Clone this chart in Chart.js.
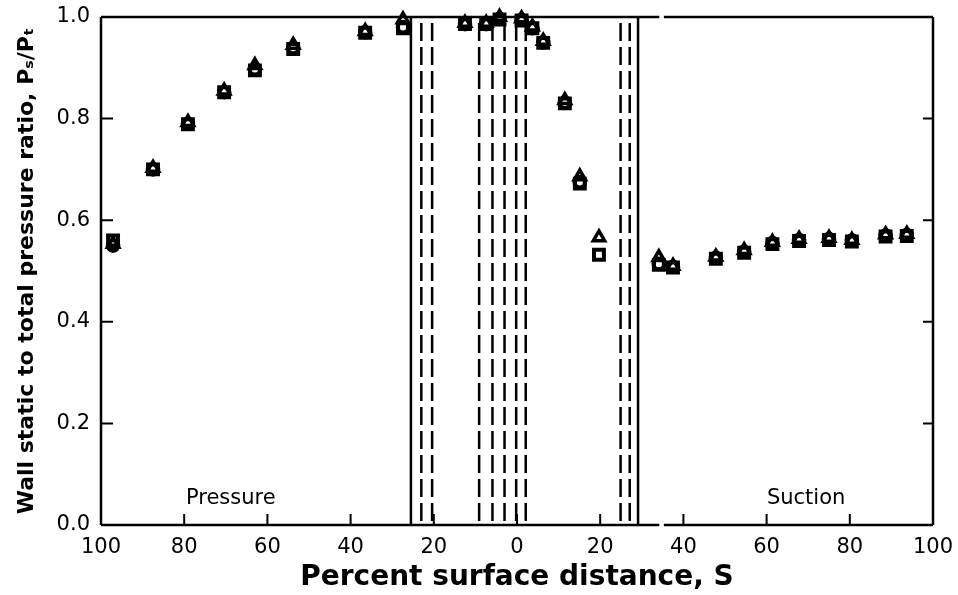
<!DOCTYPE html>
<html>
<head>
<meta charset="utf-8">
<script src="https://cdn.jsdelivr.net/npm/chart.js@4"></script>
<style>
  html, body { margin: 0; padding: 0; background: #fff; }
  #wrap { width: 958px; height: 595px; }
</style>
</head>
<body>
<div id="wrap"><canvas id="chart"></canvas></div>
<script>
// surface distance, negative = pressure side, positive = suction side
const distance = [-97.1, -87.5, -79.1, -70.4, -63.0, -53.8, -36.5, -27.4, -12.5, -7.4, -4.2, 1.1, 3.7, 6.3,
  11.5, 15.1, 19.7, 34.1, 37.5, 47.8, 54.6, 61.4, 67.8, 75.0, 80.5, 88.6, 93.7];
const squares = [0.560, 0.700, 0.789, 0.852, 0.895, 0.937, 0.969, 0.978, 0.986, 0.986, 0.995, 0.993, 0.978, 0.949,
  0.830, 0.672, 0.532, 0.512, 0.507, 0.524, 0.536, 0.553, 0.559, 0.561, 0.558, 0.568, 0.569];
const triangles = [0.553, 0.703, 0.793, 0.855, 0.905, 0.945, 0.972, 0.995, 0.988, 0.988, 1.000, 0.997, 0.981, 0.953,
  0.836, 0.686, 0.566, 0.527, 0.510, 0.528, 0.541, 0.557, 0.563, 0.565, 0.561, 0.572, 0.573];
const circles = [0.550, 0.700, 0.790, 0.852, 0.897, 0.939, 0.970, 0.980, 0.986, 0.986, 0.996, 0.994, 0.978, 0.950,
  0.831, 0.675, null, 0.514, 0.508, 0.526, 0.538, 0.555, 0.561, 0.563, 0.560, 0.570, 0.571];

// slot / edge markers along the surface
const solidLines = [-25.5, 29.1];
const dashedLines = [-23.0, -20.4, -9.1, -5.9, -3.0, -0.2, 2.1, 24.9, 27.1];
const xTicks = [-80, -60, -40, -20, 0, 20, 40, 60, 80];
const yTicks = [0.2, 0.4, 0.6, 0.8];
const axisBreak = [34.2, 35.3];
const regionLabels = ['Pressure', 'Suction'];
const regionAt = [-68.8, 69.5];

const toPoints = vals => distance
  .map((s, i) => ({ x: s, y: vals[i] }))
  .filter(p => p.y !== null);

const marker = (vals, style, r, w) => ({
  data: toPoints(vals),
  pointStyle: style,
  pointRadius: r,
  pointBorderWidth: w,
  pointBorderColor: '#000',
  pointBackgroundColor: 'rgba(0,0,0,0)',
  showLine: false,
  clip: false,
});

// let layout.padding alone decide the plot box
const noPad = s => {
  s.paddingTop = 0; s.paddingBottom = 0; s.paddingLeft = 0; s.paddingRight = 0;
};

// frame, inward ticks, the vertical lines and region names
const paper = {
  id: 'paper',
  beforeDatasetsDraw(chart) {
    const { ctx, chartArea: a, scales: { x, y } } = chart;
    ctx.save();
    ctx.strokeStyle = '#000';
    ctx.lineWidth = 2.5;

    dashedLines.forEach(s => {
      const px = x.getPixelForValue(s);
      ctx.setLineDash([18, 6]);
      ctx.beginPath();
      ctx.moveTo(px, a.top + 6);
      ctx.lineTo(px, a.bottom);
      ctx.stroke();
    });
    ctx.setLineDash([]);
    solidLines.forEach(s => {
      const px = x.getPixelForValue(s);
      ctx.beginPath();
      ctx.moveTo(px, a.top);
      ctx.lineTo(px, a.bottom);
      ctx.stroke();
    });

    const b0 = x.getPixelForValue(axisBreak[0]);
    const b1 = x.getPixelForValue(axisBreak[1]);
    ctx.beginPath();
    ctx.moveTo(a.left, a.top); ctx.lineTo(a.left, a.bottom);
    ctx.moveTo(a.right, a.top); ctx.lineTo(a.right, a.bottom);
    [a.top, a.bottom].forEach(py => {
      ctx.moveTo(a.left, py); ctx.lineTo(b0, py);
      ctx.moveTo(b1, py); ctx.lineTo(a.right, py);
    });
    ctx.stroke();

    ctx.lineWidth = 2;
    ctx.beginPath();
    xTicks.forEach(s => {
      const px = x.getPixelForValue(s);
      ctx.moveTo(px, a.bottom); ctx.lineTo(px, a.bottom - 11);
    });
    yTicks.forEach(v => {
      const py = y.getPixelForValue(v);
      ctx.moveTo(a.left, py); ctx.lineTo(a.left + 12, py);
      ctx.moveTo(a.right, py); ctx.lineTo(a.right - 10, py);
    });
    ctx.stroke();

    ctx.fillStyle = '#000';
    ctx.font = '21px "DejaVu Sans"';
    ctx.textAlign = 'center';
    ctx.textBaseline = 'middle';
    regionLabels.forEach((t, i) => {
      ctx.fillText(t, x.getPixelForValue(regionAt[i]), y.getPixelForValue(0.053));
    });
    ctx.restore();
  },
};

new Chart(document.getElementById('chart'), {
  type: 'scatter',
  data: {
    datasets: [
      marker(squares, 'rect', 7, 4),
      marker(triangles, 'triangle', 6.5, 3.5),
      marker(circles, 'circle', 5.3, 4),
    ],
  },
  options: {
    responsive: true,
    maintainAspectRatio: false,
    animation: false,
    layout: { padding: { top: 17, right: 25, left: 0, bottom: 0 } },
    plugins: { legend: { display: false }, tooltip: { enabled: false } },
    scales: {
      x: {
        type: 'linear',
        min: -100,
        max: 100,
        afterFit: s => { s.height = 70; noPad(s); },
        grid: { display: false, drawTicks: false },
        border: { display: false },
        ticks: {
          stepSize: 20,
          padding: 10,
          color: '#000',
          font: { family: 'DejaVu Sans', size: 21 },
          callback: v => Math.abs(v),
        },
        title: {
          display: true,
          text: 'Percent surface distance, S',
          color: '#000',
          font: { family: 'DejaVu Sans', size: 28, weight: 'bold' },
          padding: { top: 0, bottom: 0 },
        },
      },
      y: {
        min: 0,
        max: 1,
        afterFit: s => { s.width = 101; noPad(s); },
        grid: { display: false, drawTicks: false },
        border: { display: false },
        ticks: {
          stepSize: 0.2,
          padding: 11,
          color: '#000',
          font: { family: 'DejaVu Sans', size: 21 },
          callback: v => v.toFixed(1),
        },
        title: {
          display: true,
          text: 'Wall static to total pressure ratio, Pₛ/Pₜ',
          color: '#000',
          font: { family: 'DejaVu Sans', size: 22, weight: 'bold' },
          padding: { top: 14, bottom: 0 },
        },
      },
    },
  },
  plugins: [paper],
});
</script>
</body>
</html>
